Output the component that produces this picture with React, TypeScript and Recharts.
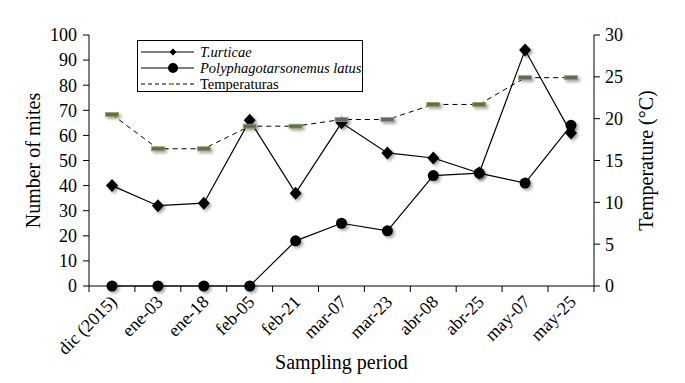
import { ComposedChart, Line, XAxis, YAxis } from 'recharts'

const periods = ['dic (2015)', 'ene-03', 'ene-18', 'feb-05', 'feb-21', 'mar-07', 'mar-23', 'abr-08', 'abr-25', 'may-07', 'may-25']
const urticae = [40, 32, 33, 66, 37, 65, 53, 51, 45, 94, 61]
const latus = [0, 0, 0, 0, 18, 25, 22, 44, 45, 41, 64]
const temperatures = [20.5, 16.4, 16.4, 19.1, 19.1, 19.9, 19.9, 21.7, 21.7, 24.9, 24.9]
const miteTicks = [0, 10, 20, 30, 40, 50, 60, 70, 80, 90, 100]
const tempTicks = [0, 5, 10, 15, 20, 25, 30]

const data = periods.map((p, i) => ({
  period: p,
  urticae: urticae[i],
  latus: latus[i],
  temp: temperatures[i],
}))

const FONT = '"Liberation Serif", "Times New Roman", serif'
const shadow = { filter: 'drop-shadow(2px 2px 1.5px rgba(0,0,0,0.35))' }
const BAND = 46

const Diamond = ({ cx, cy }: any) => (
  <path d={`M${cx},${cy - 6.5} L${cx + 6},${cy} L${cx},${cy + 6.5} L${cx - 6},${cy} Z`} fill="#000" style={shadow} />
)
const Dot = ({ cx, cy }: any) => <circle cx={cx} cy={cy} r={5.5} fill="#000" style={shadow} />
const Dash = ({ cx, cy }: any) => (
  <rect x={cx - 6.5} y={cy - 2} width={13} height={4} fill="#666" stroke="#8db04a" strokeWidth={0.8} style={shadow} />
)

const PeriodTick = ({ x, y, payload, index }: any) => (
  <g>
    <line x1={x - BAND / 2} y1={y - 8} x2={x - BAND / 2} y2={y - 2} stroke="#000" />
    {index === periods.length - 1 && <line x1={x + BAND / 2} y1={y - 8} x2={x + BAND / 2} y2={y - 2} stroke="#000" />}
    <text x={x + 6} y={y + 9} textAnchor="end" fontSize={18} fill="#000" transform={`rotate(-45 ${x + 6} ${y + 9})`}>
      {payload.value}
    </text>
  </g>
)

const legendRows = [
  { label: 'T.urticae', italic: true, kind: 'diamond' },
  { label: 'Polyphagotarsonemus latus', italic: true, kind: 'dot' },
  { label: 'Temperaturas', italic: false, kind: 'dash' },
]

const LegendBox = () => (
  <div
    style={{
      position: 'absolute', left: 137, top: 40, border: '1px solid #000', width: 226, height: 52,
      background: '#fff', boxSizing: 'border-box', paddingTop: 3,
    }}
  >
    {legendRows.map((r) => (
      <div key={r.label} style={{ display: 'flex', alignItems: 'center', height: 16, whiteSpace: 'nowrap' }}>
        <svg width={62} height={16} style={{ flex: 'none' }}>
          <line x1={3} y1={8} x2={56} y2={8} stroke="#000" strokeWidth={1} strokeDasharray={r.kind === 'dash' ? '4 3' : undefined} />
          {r.kind === 'diamond' && <path d="M35,4.5 L38.5,8 L35,11.5 L31.5,8 Z" fill="#000" />}
          {r.kind === 'dot' && <circle cx={35} cy={8} r={5} fill="#000" />}
          {r.kind === 'dash' && <rect x={32} y={7} width={4} height={2} fill="#8db04a" />}
        </svg>
        <span style={{ fontSize: 14.5, fontStyle: r.italic ? 'italic' : 'normal', lineHeight: '16px' }}>{r.label}</span>
      </div>
    ))}
  </div>
)

export default function App() {
  return (
    <div style={{ position: 'relative', width: 685, height: 383, background: '#fff' }}>
      <style>{`body{margin:0;font-family:${FONT}} svg text, .recharts-text{font-family:${FONT} !important}`}</style>
      <ComposedChart width={685} height={383} data={data} margin={{ top: 35, right: 0, bottom: 0, left: 0 }}>
        <XAxis
          dataKey="period"
          height={97}
          padding={{ left: BAND / 2, right: BAND / 2 }}
          tick={<PeriodTick />}
          tickLine={false}
          interval={0}
          stroke="#000"
          label={{ value: 'Sampling period', position: 'insideBottom', offset: 14, fontSize: 20, fill: '#000' }}
        />
        <YAxis
          yAxisId="mites"
          width={89}
          domain={[0, 100]}
          ticks={miteTicks}
          interval={0}
          stroke="#000"
          tickSize={6}
          tickMargin={6}
          tick={{ fontSize: 18, fill: '#000' }}
          label={{ value: 'Number of mites', angle: -90, position: 'center', dx: -12, fontSize: 20, fill: '#000' }}
        />
        <YAxis
          yAxisId="temp"
          orientation="right"
          width={91}
          domain={[0, 30]}
          ticks={tempTicks}
          interval={0}
          stroke="#000"
          tickSize={6}
          tickMargin={5}
          tick={{ fontSize: 18, fill: '#000' }}
          label={{ value: 'Temperature (°C)', angle: -90, position: 'center', dx: 6, fontSize: 20, fill: '#000' }}
        />
        <Line yAxisId="mites" dataKey="urticae" stroke="#000" strokeWidth={1.2} dot={<Diamond />} isAnimationActive={false} />
        <Line yAxisId="mites" dataKey="latus" stroke="#000" strokeWidth={1.2} dot={<Dot />} isAnimationActive={false} />
        <Line yAxisId="temp" dataKey="temp" stroke="#000" strokeWidth={1} strokeDasharray="5 4" dot={<Dash />} isAnimationActive={false} />
      </ComposedChart>
      <LegendBox />
    </div>
  )
}
